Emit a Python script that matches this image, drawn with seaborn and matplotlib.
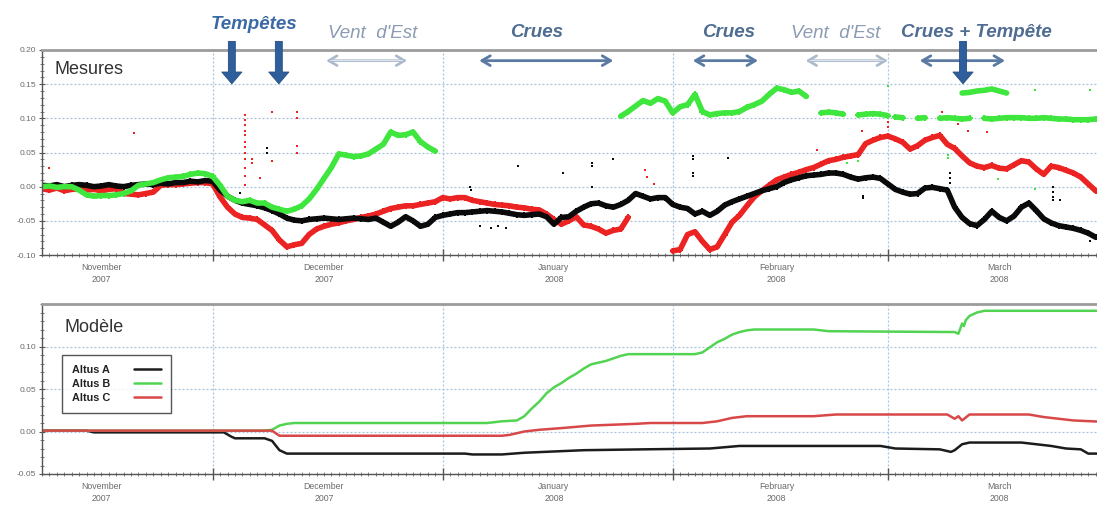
import numpy as np
import pandas as pd
import matplotlib
matplotlib.use("Agg")
import matplotlib.pyplot as plt
import matplotlib.dates as mdates
import matplotlib.ticker as mticker
import seaborn as sns

# ---------------------------------------------------------------- données
jours = pd.date_range("2007-11-08", "2008-03-29", freq="D")
nan = np.nan

# Mesures journalières (m)
mes_a = [
    0.002, 0.001, 0.003, 0.000, 0.002, 0.003,
    0.002, 0.000, 0.001, 0.003, 0.001, 0.000, 0.002,
    0.003, 0.004, 0.003, 0.005, 0.004, 0.006,
    0.006, 0.008, 0.007, 0.009,
    0.008,
    -0.005, -0.014, -0.020, -0.024, -0.026, -0.028, -0.031, -0.035, -0.040, -0.046, -0.049, -0.050,
    -0.048, -0.047, -0.046, -0.047, -0.048, -0.047, -0.046, -0.047, -0.048, -0.046,
    -0.052, -0.058, -0.052, -0.044, -0.050, -0.058, -0.055, -0.045,
    -0.042, -0.040, -0.038, -0.038, -0.037, -0.036, -0.035, -0.036, -0.037, -0.039, -0.041, -0.042, -0.041, -0.040, -0.044,
    -0.055, -0.045, -0.044, -0.036, -0.030, -0.025, -0.024, -0.028, -0.030, -0.026, -0.020, -0.010, -0.014, -0.018, -0.016, -0.016,
    -0.026, -0.030, -0.032, -0.040, -0.036, -0.042, -0.036, -0.027, -0.022, -0.018, -0.014, -0.010, -0.006, -0.003, 0.000, 0.006, 0.010, 0.013, 0.016, 0.017, 0.018,
    0.020, 0.020, 0.018, 0.014, 0.011, 0.013, 0.014, 0.012,
    0.004, -0.004, -0.008, -0.011, -0.010, -0.002, -0.001, -0.003, -0.005,
    -0.030, -0.045, -0.054, -0.057, -0.048, -0.036, -0.045, -0.050, -0.043, -0.030, -0.024, -0.035, -0.047, -0.053, -0.057, -0.059, -0.061, -0.064, -0.068, -0.074,
]
mes_b = [
    0.000, 0.001, -0.001, 0.000, 0.000,
    -0.005, -0.012, -0.014, -0.013,
    -0.013, -0.012, -0.010, -0.006,
    0.002, 0.004, 0.006,
    0.010, 0.013, 0.014,
    0.015, 0.018, 0.020, 0.019,
    0.015,
    0.002, -0.014, -0.020, -0.022, -0.020, -0.024, -0.024, -0.030, -0.033, -0.036, -0.033, -0.028,
    -0.018, -0.004, 0.012, 0.028, 0.048, 0.046, 0.044, 0.045, 0.048, 0.055,
    0.062, 0.080, 0.075, 0.076, 0.080, 0.066, 0.058, 0.052,
    nan, nan, nan, nan, nan, nan, nan, nan, nan, nan, nan, nan,
    nan, nan, nan, nan, nan, nan, nan, nan, nan, nan, nan, nan,
    0.103, 0.110, 0.118, 0.126, 0.122, 0.129, 0.125, 0.108, 0.117, 0.120, 0.135,
    0.110, 0.105, 0.107, 0.108, 0.108, 0.110, 0.116, 0.120, 0.125, 0.135, 0.144, 0.142, 0.138, 0.140, 0.132,
    nan,
    0.108, 0.109, 0.108, 0.106, nan, 0.105, 0.106, 0.107, 0.106, 0.104,
    nan, nan, nan, nan, nan, nan, nan, nan, nan, nan, nan, nan, nan, nan,
    nan, nan, nan, nan, nan, nan, nan, nan, nan, nan, nan, nan, nan, nan,
]
mes_c = [
    -0.003, -0.005, -0.002, -0.006, -0.004, -0.003,
    -0.005, -0.004, -0.006, -0.004, -0.003,
    -0.010, -0.011, -0.012, -0.010, -0.008,
    0.002, 0.003, 0.003, 0.004, 0.005, 0.006, 0.006, 0.004,
    -0.015, -0.030, -0.040, -0.045, -0.046, -0.048, -0.056, -0.064, -0.078, -0.088, -0.085, -0.083,
    -0.070, -0.062, -0.058, -0.055, -0.053, -0.050, -0.048, -0.045, -0.043, -0.040, -0.036, -0.032, -0.030, -0.028, -0.028, -0.026, -0.024, -0.022,
    -0.016, -0.018, -0.016, -0.016, -0.020, -0.022, -0.024, -0.026, -0.027, -0.028, -0.030, -0.031, -0.033, -0.034, -0.040, -0.048,
    -0.055, -0.050, -0.044, -0.056, -0.058, -0.062, -0.068, -0.064, -0.062, -0.045,
    nan, nan, nan, nan, nan,
    -0.094, -0.092, -0.070, -0.066, -0.080, -0.092, -0.088, -0.070, -0.052, -0.042, -0.028, -0.015, -0.006, 0.002, 0.010,
    0.014, 0.018, 0.021, 0.025, 0.028, 0.033, 0.038, 0.040, 0.043, 0.045, 0.047, 0.063, 0.068, 0.072,
    0.074, 0.070, 0.065, 0.055, 0.060, 0.068, 0.072, 0.075, 0.062, 0.056, 0.045, 0.035, 0.030, 0.028, 0.031,
    0.027, 0.026, 0.032, 0.038, 0.036, 0.026, 0.018, 0.030, 0.028, 0.024, 0.020, 0.014, 0.004, -0.006,
]

# Altus B : second palier en mars (bande basse et bande haute)
b_bas_jours = pd.date_range("2008-03-02", "2008-03-29", freq="D")
b_bas = [0.102, 0.101, nan, 0.100, 0.101, nan, 0.100, 0.101, 0.100, 0.099,
         0.100, nan, 0.100, 0.099, 0.100, 0.101, 0.101, 0.101, 0.100, 0.100,
         0.101, 0.100, 0.099, 0.099, 0.098, 0.098, 0.098, 0.099]
b_haut_jours = pd.date_range("2008-03-11", "2008-03-17", freq="D")
b_haut = [0.137, 0.138, 0.140, 0.141, 0.143, 0.140, 0.137]

# Points isolés
pts_c_dates = ["2007-11-09 00:00", "2007-11-20 10:00",
               "2007-12-05 08:00", "2007-12-05 08:00", "2007-12-05 08:00", "2007-12-05 08:00",
               "2007-12-05 08:00", "2007-12-05 08:00", "2007-12-05 08:00", "2007-12-05 08:00",
               "2007-12-05 08:00", "2007-12-05 08:00", "2007-12-05 08:00", "2007-12-05 08:00",
               "2007-12-06 06:00", "2007-12-06 06:00", "2007-12-07 10:00", "2007-12-09 00:00",
               "2007-12-09 00:00", "2007-12-12 09:00", "2007-12-12 09:00", "2007-12-12 09:00",
               "2007-12-12 09:00", "2008-01-11 04:00", "2008-01-28 07:00", "2008-01-28 12:00",
               "2008-01-29 12:00", "2008-02-20 10:00", "2008-02-26 12:00", "2008-03-01 00:00",
               "2008-03-01 00:00", "2008-03-08 07:00", "2008-03-10 10:00", "2008-03-11 18:00",
               "2008-03-14 08:00"]
pts_c_vals = [0.027, 0.078,
              0.105, 0.098, 0.090, 0.082, 0.075, 0.066, 0.058, 0.050, 0.040, 0.028, 0.015, 0.002,
              0.040, 0.034, 0.013, 0.038, 0.109, 0.110, 0.100, 0.060, 0.050, 0.030, 0.024, 0.014,
              0.004, 0.053, 0.082, 0.095, 0.087, 0.109, 0.092, 0.082, 0.080]
pts_a_dates = ["2007-12-04 17:00", "2007-12-08 08:00", "2007-12-08 08:00", "2008-01-04 17:00",
               "2008-01-04 20:00", "2008-01-06 00:00", "2008-01-07 12:00", "2008-01-08 12:00",
               "2008-01-09 12:00", "2008-01-11 04:00", "2008-01-17 05:00", "2008-01-21 03:00",
               "2008-01-21 03:00", "2008-01-21 03:00", "2008-01-24 00:00", "2008-02-03 17:00",
               "2008-02-03 17:00", "2008-02-03 17:00", "2008-02-03 17:00", "2008-02-08 12:00",
               "2008-02-26 15:00", "2008-02-26 15:00", "2008-03-09 09:00", "2008-03-09 09:00",
               "2008-03-09 09:00", "2008-03-23 07:00", "2008-03-23 07:00", "2008-03-23 07:00",
               "2008-03-23 07:00", "2008-03-24 05:00", "2008-03-28 05:00"]
pts_a_vals = [-0.009, 0.057, 0.050, 0.000, -0.005, -0.057, -0.060, -0.058, -0.061, 0.030,
              0.020, 0.030, 0.034, 0.000, 0.040, 0.045, 0.040, 0.020, 0.015, 0.042,
              -0.013, -0.016, 0.020, 0.012, 0.006, 0.000, -0.008, -0.015, -0.020, -0.020, -0.080]
pts_b_dates = ["2008-02-22 12:00", "2008-02-22 18:00", "2008-02-24 05:00", "2008-02-24 05:00",
               "2008-02-24 12:00", "2008-02-26 00:00", "2008-02-26 00:00", "2008-03-01 00:00",
               "2008-03-09 02:00", "2008-03-09 02:00", "2008-03-15 20:00", "2008-03-20 20:00",
               "2008-03-20 20:00", "2008-03-28 07:00"]
pts_b_vals = [0.019, 0.021, 0.043, 0.040, 0.035, 0.038, 0.045, 0.148,
              0.046, 0.042, 0.011, -0.003, 0.142, 0.142]

# Modèle : sommets des courbes
mod_a_dates = ["2007-11-08", "2007-11-14", "2007-11-15", "2007-12-02 12:00", "2007-12-03 12:00",
               "2007-12-04", "2007-12-08", "2007-12-09", "2007-12-10", "2007-12-11", "2008-01-04",
               "2008-01-05", "2008-01-09", "2008-01-12", "2008-01-20", "2008-01-28", "2008-02-06",
               "2008-02-10", "2008-02-29", "2008-03-02", "2008-03-08", "2008-03-09 12:00",
               "2008-03-10", "2008-03-11", "2008-03-12", "2008-03-19", "2008-03-21", "2008-03-23",
               "2008-03-25", "2008-03-27", "2008-03-28", "2008-03-31"]
mod_a = [0.001, 0.001, -0.001, -0.001, -0.006, -0.008, -0.008, -0.011, -0.022, -0.026, -0.026,
         -0.027, -0.027, -0.025, -0.022, -0.021, -0.020, -0.017, -0.017, -0.020, -0.021, -0.024,
         -0.022, -0.015, -0.013, -0.013, -0.015, -0.017, -0.020, -0.021, -0.026, -0.026]
mod_b_dates = ["2007-11-08", "2007-12-08", "2007-12-09", "2007-12-10", "2007-12-11", "2007-12-12",
               "2008-01-07", "2008-01-09", "2008-01-11", "2008-01-12", "2008-01-13", "2008-01-14",
               "2008-01-15", "2008-01-16", "2008-01-17", "2008-01-18", "2008-01-19", "2008-01-20",
               "2008-01-21", "2008-01-22", "2008-01-23", "2008-01-24", "2008-01-25", "2008-01-26",
               "2008-02-04", "2008-02-05", "2008-02-06", "2008-02-07", "2008-02-08", "2008-02-09",
               "2008-02-10", "2008-02-11", "2008-02-12", "2008-02-20", "2008-02-22", "2008-03-10",
               "2008-03-10 12:00", "2008-03-11", "2008-03-11 06:00", "2008-03-11 12:00",
               "2008-03-12", "2008-03-13", "2008-03-14", "2008-03-31"]
mod_b = [0.001, 0.001, 0.002, 0.007, 0.009, 0.010, 0.010, 0.012, 0.013, 0.018, 0.027, 0.035,
         0.045, 0.052, 0.057, 0.063, 0.068, 0.074, 0.079, 0.081, 0.083, 0.086, 0.089, 0.091,
         0.091, 0.093, 0.099, 0.105, 0.109, 0.114, 0.117, 0.119, 0.120, 0.120, 0.118, 0.117,
         0.115, 0.127, 0.124, 0.131, 0.136, 0.140, 0.142, 0.142]
mod_c_dates = ["2007-11-08", "2007-12-09", "2007-12-10", "2008-01-09", "2008-01-10", "2008-01-11",
               "2008-01-12", "2008-01-14", "2008-01-17", "2008-01-21", "2008-01-27", "2008-01-29",
               "2008-02-05", "2008-02-07", "2008-02-09", "2008-02-11", "2008-02-20", "2008-02-23",
               "2008-03-09", "2008-03-10", "2008-03-10 12:00", "2008-03-11", "2008-03-12",
               "2008-03-20", "2008-03-22", "2008-03-24", "2008-03-26", "2008-03-31"]
mod_c = [0.001, 0.001, -0.005, -0.005, -0.004, -0.002, 0.000, 0.002, 0.004, 0.007, 0.009, 0.010,
         0.010, 0.012, 0.016, 0.018, 0.018, 0.020, 0.020, 0.015, 0.018, 0.013, 0.020, 0.020,
         0.017, 0.015, 0.013, 0.011]

noms = ["Altus A", "Altus B", "Altus C"]
mois_etiquettes = ["November\n2007", "December\n2007", "January\n2008", "February\n2008", "March\n2008"]
mois_centres = ["2007-11-16", "2007-12-16", "2008-01-16", "2008-02-15", "2008-03-16"]

# Événements météo
evenements = [
    ("Tempêtes", "2007-12-06 14:00", "tempete"),
    ("Vent  d'Est", "2007-12-22 14:00", "vent"),
    ("Crues", "2008-01-13 17:00", "crue"),
    ("Crues", "2008-02-08 12:00", "crue"),
    ("Vent  d'Est", "2008-02-23 00:00", "vent"),
    ("Crues + Tempête", "2008-03-12 22:00", "crue"),
]
periodes = [
    ("2007-12-16 07:00", "2007-12-27 05:00", "vent"),
    ("2008-01-05 22:00", "2008-01-24 00:00", "crue"),
    ("2008-02-03 17:00", "2008-02-12 12:00", "crue"),
    ("2008-02-18 22:00", "2008-03-01 00:00", "vent"),
    ("2008-03-05 07:00", "2008-03-16 19:00", "crue"),
]
tempetes = ["2007-12-03 14:00", "2007-12-09 22:00", "2008-03-11 03:00"]


def dt(valeurs):
    return pd.to_datetime(pd.Series(valeurs), format="mixed")


def num(date):
    return mdates.date2num(pd.Timestamp(date).to_pydatetime())


# ---------------------------------------------------------------- style
sns.set_theme(style="white")
plt.rcParams["font.family"] = ["Liberation Sans", "DejaVu Sans"]
plt.rcParams["axes.unicode_minus"] = False

COUL_MES = {"Altus A": "#0a0a0a", "Altus B": "#3ee63e", "Altus C": "#ec2323"}
COUL_MOD = {"Altus A": "#1c1c1c", "Altus B": "#52d452", "Altus C": "#d84848"}
GRILLE = "#a9c3dc"

W, H = 1097, 505
fig = plt.figure(figsize=(W / 100, H / 100), dpi=100)
largeur = (1110.5 - 42) / W
ax1 = fig.add_axes([42 / W, (H - 255) / H, largeur, 205 / H])
ax2 = fig.add_axes([42 / W, (H - 474) / H, largeur, 170 / H])


def serie_longue(dates, valeurs, nom):
    df = pd.DataFrame({"date": pd.DatetimeIndex(dates), "valeur": valeurs})
    df["troncon"] = df["valeur"].isna().cumsum()
    df = df.dropna()
    df["serie"] = nom
    return df


def habiller(ax, ymin, ymax, yticks, decal):
    ax.set_xlim(pd.Timestamp("2007-11-08"), pd.Timestamp("2008-03-31"))
    ax.set_ylim(ymin, ymax)
    ax.xaxis.set_major_locator(mdates.MonthLocator())
    ax.xaxis.set_minor_locator(mdates.DayLocator())
    ax.xaxis.set_major_formatter(mticker.NullFormatter())
    ax.set_yticks(yticks)
    ax.yaxis.set_minor_locator(mticker.MultipleLocator(0.01))
    ax.yaxis.set_major_formatter(mticker.FormatStrFormatter("%.2f"))
    ax.tick_params(axis="y", which="major", direction="inout", length=5, width=0.8,
                   color="#555555", labelsize=6, labelcolor="#6a6a6a", pad=1.5,
                   left=True)
    ax.tick_params(axis="y", which="minor", direction="inout", length=3, width=0.6,
                   color="#666666", left=True)
    ax.tick_params(axis="x", which="major", direction="inout", length=9, width=1.0,
                   color="#555555", bottom=True)
    ax.tick_params(axis="x", which="minor", direction="inout", length=3.5, width=0.6,
                   color="#666666", bottom=True)
    ax.set_axisbelow(True)
    ax.grid(True, which="major", color=GRILLE, linestyle=(0, (1.6, 1.6)), linewidth=0.9)
    ax.grid(False, which="minor")
    for cote in ("left", "bottom"):
        ax.spines[cote].set_color("#555555")
        ax.spines[cote].set_linewidth(1.0)
    ax.spines["top"].set_color("#9c9c9c")
    ax.spines["top"].set_linewidth(2.0)
    ax.spines["right"].set_visible(False)
    ax.set_xlabel("")
    ax.set_ylabel("")
    tr = ax.get_xaxis_transform()
    for etiquette, centre in zip(mois_etiquettes, mois_centres):
        ax.annotate(etiquette, xy=(num(centre), 0), xycoords=tr,
                    xytext=(0, -decal), textcoords="offset points",
                    ha="center", va="top", fontsize=6.3, color="#6a6a6a",
                    linespacing=1.45)


# ---------------------------------------------------------------- mesures
mesures = pd.concat([
    serie_longue(jours, mes_c, "Altus C"),
    serie_longue(jours, mes_a, "Altus A"),
    serie_longue(jours, mes_b, "Altus B"),
    serie_longue(b_bas_jours, b_bas, "Altus B").assign(troncon=lambda d: d["troncon"] + 1000),
])
mesures["troncon"] = mesures["serie"] + "_" + mesures["troncon"].astype(str)
for nom in ["Altus C", "Altus A", "Altus B"]:
    sous = mesures[mesures["serie"] == nom]
    sns.lineplot(data=sous, x="date", y="valeur", units="troncon", estimator=None,
                 color=COUL_MES[nom], lw=4.0, ax=ax1, legend=False)
    sns.scatterplot(data=sous, x="date", y="valeur", color=COUL_MES[nom], marker="P",
                    s=16, linewidth=0, ax=ax1, legend=False)

haut = serie_longue(b_haut_jours, b_haut, "Altus B")
sns.lineplot(data=haut, x="date", y="valeur", color=COUL_MES["Altus B"], lw=4.0,
             ax=ax1, legend=False)

for dates, vals, nom in [(pts_c_dates, pts_c_vals, "Altus C"),
                         (pts_a_dates, pts_a_vals, "Altus A"),
                         (pts_b_dates, pts_b_vals, "Altus B")]:
    sns.scatterplot(x=dt(dates), y=vals, color=COUL_MES[nom], marker="s",
                    s=4, linewidth=0, ax=ax1, legend=False)

habiller(ax1, -0.10, 0.20, [-0.10, -0.05, 0.00, 0.05, 0.10, 0.15, 0.20], 6)
ax1.text(0.012, 0.905, "Mesures", transform=ax1.transAxes, fontsize=13,
         color="#333333", ha="left", va="center")

# ---------------------------------------------------------------- modèle
for nom, dates, vals in zip(noms, [mod_a_dates, mod_b_dates, mod_c_dates], [mod_a, mod_b, mod_c]):
    sns.lineplot(x=dt(dates), y=vals, color=COUL_MOD[nom], lw=1.8,
                 ax=ax2, label=nom, sort=False)

habiller(ax2, -0.05, 0.15, [-0.05, 0.00, 0.05, 0.10], 6)
ax2.text(0.0215, 0.86, "Modèle", transform=ax2.transAxes, fontsize=13,
         color="#333333", ha="left", va="center")
leg = ax2.legend(loc="upper left", bbox_to_anchor=(0.0187, 0.70), markerfirst=False,
                 frameon=True, fancybox=False, edgecolor="#2a2a2a",
                 prop={"weight": "bold", "size": 7.8}, handlelength=2.5,
                 labelspacing=0.38, borderpad=0.9, handletextpad=2.2,
                 borderaxespad=0)
leg.get_frame().set_linewidth(1.0)
for t in leg.get_texts():
    t.set_color("#222222")

# ---------------------------------------------------------------- événements
tr = ax1.get_xaxis_transform()
Y_FLECHE = 0.948
STYLE_TEXTE = {
    "tempete": dict(color="#3b69a6", fontweight="bold", fontstyle="italic", y=1.122),
    "crue": dict(color="#4f6c92", fontweight="bold", fontstyle="italic", y=1.085),
    "vent": dict(color="#8c9cb2", fontweight="normal", fontstyle="italic", y=1.080),
}
for texte, date, genre in evenements:
    st = STYLE_TEXTE[genre]
    ax1.text(num(date), st["y"], texte, transform=tr, ha="center", va="center",
             fontsize=13.5, color=st["color"], fontweight=st["fontweight"],
             fontstyle=st["fontstyle"], clip_on=False)

for debut, fin, genre in periodes:
    d0, d1 = num(debut), num(fin)
    if genre == "crue":
        ax1.annotate("", xy=(d1, Y_FLECHE), xytext=(d0, Y_FLECHE), xycoords=tr, textcoords=tr,
                     arrowprops=dict(arrowstyle="<->,head_length=0.6,head_width=0.35",
                                     color="#5b7aa3", lw=2.0, shrinkA=0, shrinkB=0,
                                     mutation_scale=10))
    else:
        ax1.annotate("", xy=(d1, Y_FLECHE), xytext=(d0, Y_FLECHE), xycoords=tr, textcoords=tr,
                     arrowprops=dict(arrowstyle="<->,head_length=0.6,head_width=0.35",
                                     color="#a9b9ca", lw=1.9, shrinkA=0, shrinkB=0,
                                     mutation_scale=10))
        ax1.annotate("", xy=(d1 - 0.6, Y_FLECHE), xytext=(d0 + 0.6, Y_FLECHE),
                     xycoords=tr, textcoords=tr,
                     arrowprops=dict(arrowstyle="-", color="#eef3f8", lw=0.6,
                                     shrinkA=0, shrinkB=0))

for date in tempetes:
    d = num(date)
    ax1.annotate("", xy=(d, 0.835), xytext=(d, 1.042), xycoords=tr, textcoords=tr,
                 arrowprops=dict(arrowstyle="simple,head_length=0.85,head_width=1.45,tail_width=0.5",
                                 fc="#2f5e9c", ec="#264d80", lw=0.6, shrinkA=0, shrinkB=0,
                                 mutation_scale=10))

fig.savefig("out.png", dpi=100)
